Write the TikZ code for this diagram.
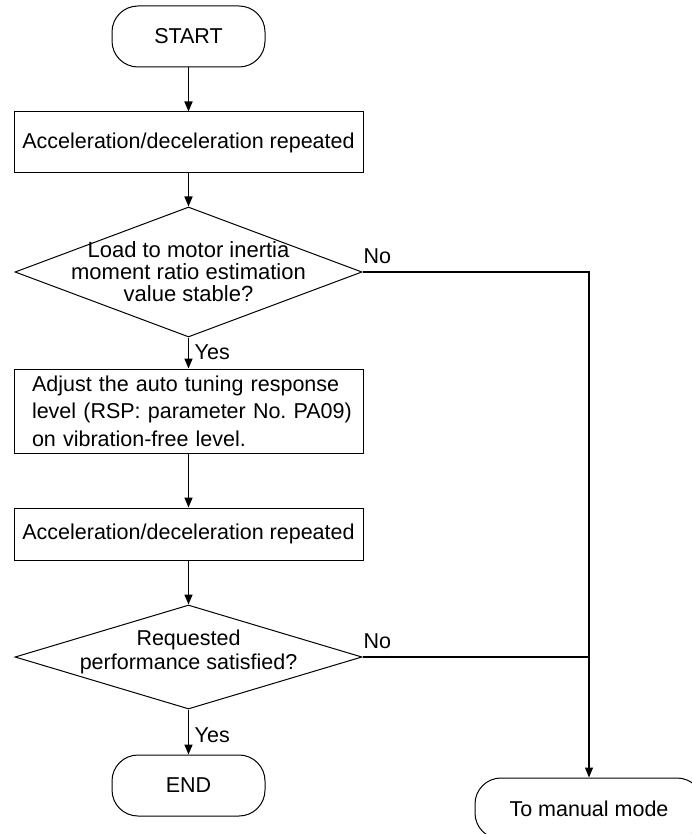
\documentclass[tikz,border=0pt]{standalone}
\usepackage{fontspec}
\setmainfont{Liberation Sans}
\usetikzlibrary{positioning,arrows.meta,shapes.geometric}

\begin{document}
\begin{tikzpicture}[x=1pt,y=1pt,
  term/.style={draw,line width=1pt,rounded corners=26pt,minimum width=153pt,minimum height=61pt,inner sep=0pt,font=\fontsize{21.5}{25}\selectfont},
  proc/.style={draw,line width=1pt,minimum width=349pt,inner sep=0pt,align=center,font=\fontsize{21.5}{27.5}\selectfont},
  decision/.style={draw,line width=1pt,diamond,minimum width=347pt,inner sep=0pt},
  dtext/.style={align=center,inner sep=0pt,font=\fontsize{22}{22}\selectfont},
  lbl/.style={font=\fontsize{21.5}{25}\selectfont,inner sep=0pt},
  arr/.style={-{Triangle[length=10pt,width=8pt]},line width=1.6pt},
  sarr/.style={-{Triangle[length=10pt,width=8pt]},line width=1.2pt},
  sline/.style={line width=1.2pt}
]
\useasboundingbox (0,0) rectangle (692,-834);
\node[term] (start) at (188.5,-36.5) {START};
\node[proc,minimum height=61pt,below=44pt of start] (accel1) {Acceleration/deceleration repeated};
\node[decision,minimum height=130pt,below=33pt of accel1,
  label={[dtext]center:{Load to motor inertia\\moment ratio estimation\\value stable?}}] (stable) {};
\node[proc,align=left,text width=313pt,inner xsep=18pt,minimum height=84pt,below=31pt of stable] (adjust)
  {\mbox{Adjust the auto tuning response}\\\mbox{level (RSP: parameter No.\ PA09)}\\\mbox{on vibration-free level.}};
\node[proc,minimum height=52pt,below=54pt of adjust] (accel2) {Acceleration/deceleration repeated};
\node[decision,minimum height=104pt,below=44pt of accel2,
  label={[dtext,yshift=5pt,font=\fontsize{21.5}{24}\selectfont]center:{Requested\\performance satisfied?}}] (perf) {};
\node[term,below=45pt of perf] (finish) {END};
\node[term,minimum width=228pt] (manual) at (589,-808.5) {To manual mode};

\draw[arr] (start) -- (accel1);
\draw[arr] (accel1) -- (stable);
\draw[arr] (stable) -- (adjust);
\draw[arr] (adjust) -- (accel2);
\draw[arr] (accel2) -- (perf);
\draw[arr] (perf) -- (finish);
\draw[sarr] (stable.east) -| (manual.north);
\coordinate (join) at (perf.east -| manual.north);
\draw[sline] (perf.east) -- (join);

\node[lbl,anchor=base west] (no1) at ([xshift=1pt,yshift=9pt]stable.east) {No};
\node[lbl,anchor=west] (yes1) at ([xshift=6pt,yshift=-15pt]stable.south) {Yes};
\node[lbl,anchor=base west] (no2) at ([xshift=1pt,yshift=9pt]perf.east) {No};
\node[lbl,anchor=west] (yes2) at ([xshift=6pt,yshift=-26pt]perf.south) {Yes};
\end{tikzpicture}
\end{document}
